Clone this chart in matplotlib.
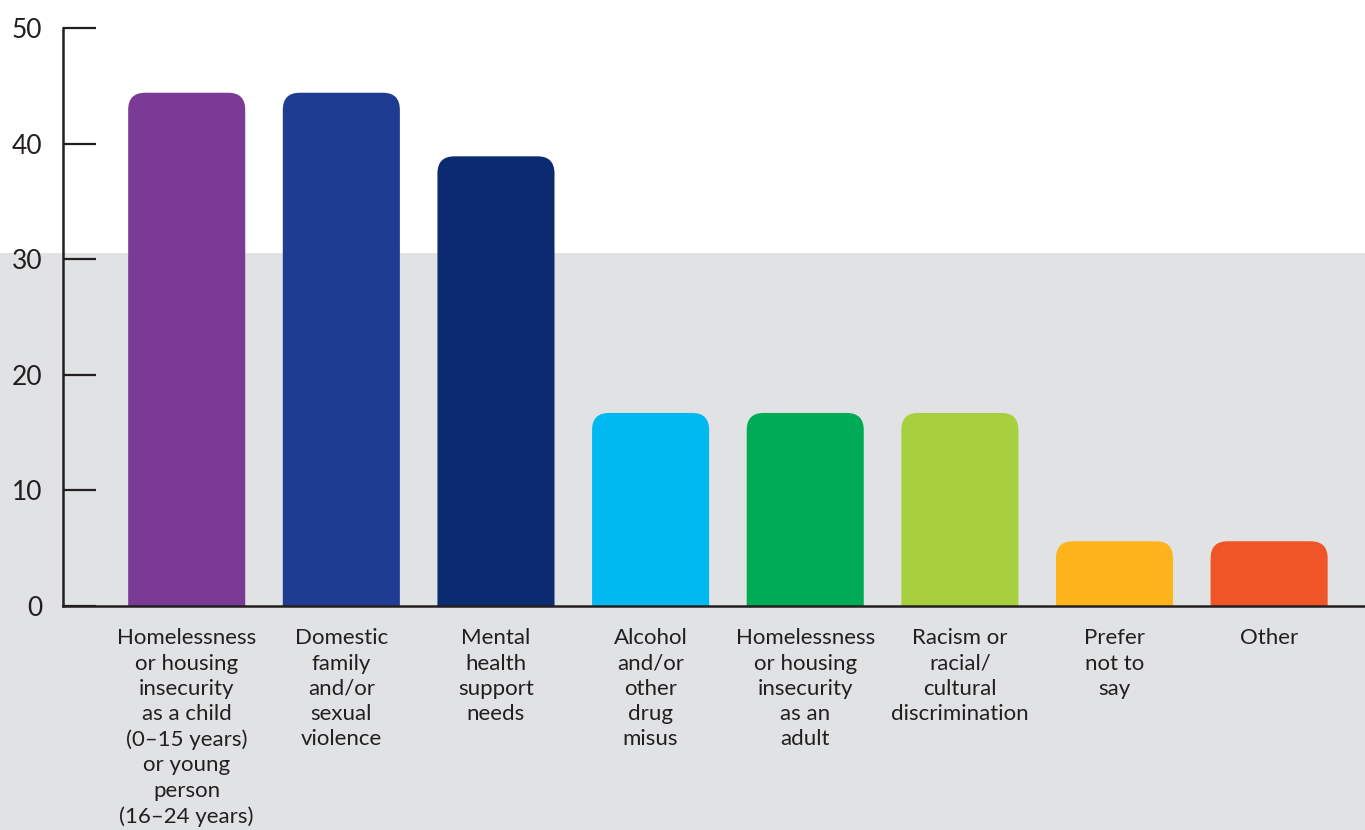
import matplotlib
matplotlib.use("Agg")
import matplotlib.pyplot as plt
from matplotlib.patches import FancyBboxPatch, Rectangle

categories = [
    "Homelessness\nor housing\ninsecurity\nas a child\n(0\u201315 years)\nor young\nperson\n(16\u201324 years)",
    "Domestic\nfamily\nand/or\nsexual\nviolence",
    "Mental\nhealth\nsupport\nneeds",
    "Alcohol\nand/or\nother\ndrug\nmisus",
    "Homelessness\nor housing\ninsecurity\nas an\nadult",
    "Racism or\nracial/\ncultural\ndiscrimination",
    "Prefer\nnot to\nsay",
    "Other",
]
values = [44.4, 44.4, 38.9, 16.7, 16.7, 16.7, 5.6, 5.6]
colors = ["#7B3A96", "#1F3C93", "#0B2A6F", "#00B9F1",
          "#00AB55", "#A8CF3E", "#FCB41A", "#F05527"]
yticks = [0, 10, 20, 30, 40, 50]

ink = "#231F20"
plt.rcParams['font.family'] = ['Lato', 'DejaVu Sans']

W, H = 1365, 830
fig = plt.figure(figsize=(W / 100, H / 100), dpi=100)
fig.patch.set_facecolor("white")
# grey panel behind the lower part of the chart
fig.patches.append(Rectangle((0, 0), 1, 1 - 253 / H, transform=fig.transFigure,
                             facecolor="#E1E2E4", edgecolor="none", zorder=-10))

ax = fig.add_axes([63 / W, 1 - 606 / H, 1 - 63 / W, (606 - 28) / H])
ax.set_facecolor("none")
ax.set_xlim(-0.8, 7.62)
ax.set_ylim(0, 50)

# rounded-top bars; aspect keeps corners circular in pixels
bbox = ax.get_position()
px_x = bbox.width * W / (7.62 + 0.8)
px_y = bbox.height * H / 50
aspect = px_x / px_y
width = 0.757
radius = 17 / px_x
for i, (v, c) in enumerate(zip(values, colors)):
    p = FancyBboxPatch((i - width / 2, -5), width, v + 5,
                       boxstyle="round,pad=0,rounding_size=%f" % radius,
                       mutation_aspect=aspect,
                       facecolor=c, edgecolor="none", clip_on=True, zorder=2)
    ax.add_patch(p)

ax.set_yticks(yticks)
ax.set_xticks(range(len(categories)))
ax.set_xticklabels(categories, fontsize=16, color=ink, linespacing=1.33,
                   va="top", ha="center")
ax.tick_params(axis="x", length=0, pad=16)
ax.tick_params(axis="y", direction="in", length=24, width=1.6, color=ink,
               labelsize=19, labelcolor=ink, pad=15)

for s in ["top", "right"]:
    ax.spines[s].set_visible(False)
for s in ["left", "bottom"]:
    ax.spines[s].set_color(ink)
    ax.spines[s].set_linewidth(1.8)
    ax.spines[s].set_zorder(5)

fig.savefig("out.png", dpi=100)
